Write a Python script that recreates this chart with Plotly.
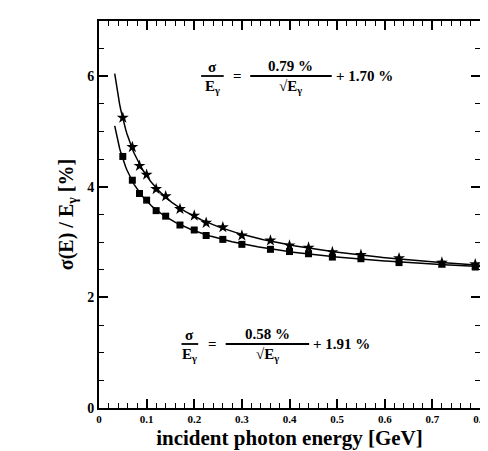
import numpy as np
import plotly.graph_objects as go

energy = [0.05, 0.07, 0.085, 0.10, 0.12, 0.14, 0.17, 0.20, 0.225, 0.26,
          0.30, 0.36, 0.40, 0.44, 0.49, 0.55, 0.63, 0.72, 0.79]
res_upper = [5.25, 4.72, 4.38, 4.22, 3.96, 3.83, 3.60, 3.48, 3.35, 3.27,
             3.12, 3.03, 2.94, 2.90, 2.82, 2.77, 2.71, 2.63, 2.60]
res_lower = [4.55, 4.12, 3.88, 3.76, 3.57, 3.47, 3.31, 3.22, 3.12, 3.05,
             2.96, 2.87, 2.83, 2.79, 2.73, 2.70, 2.63, 2.60, 2.55]

# Fit parameters shown in the labels (percent)
fit_upper = (0.79, 1.70)
fit_lower = (0.58, 1.91)
fit_range = (0.033, 0.80)
fit_labels_upper = ("0.79 %", "1.70 %")
fit_labels_lower = ("0.58 %", "1.91 %")

x_ticks = [0, 0.1, 0.2, 0.3, 0.4, 0.5, 0.6, 0.7, 0.8]
x_ticklabels = ["<b>0</b>", "<b>0.1</b>", "<b>0.2</b>", "<b>0.3</b>", "<b>0.4</b>",
                "<b>0.5</b>", "<b>0.6</b>", "<b>0.7</b>", "<b>0.8</b>"]
y_ticks = [0, 2, 4, 6]
y_ticklabels = ["<b>0</b>", "<b>2</b>", "<b>4</b>", "<b>6</b>"]

X0, X1 = 0.0, 0.8
Y0, Y1 = 0.0, 7.0
L, R, T, B = 91, 9, 13, 51
W, H = 488, 451

def px_x(px):
    return X0 + (px - L) / (W - L - R) * (X1 - X0)

def px_y(py):
    return Y0 + (H - B - py) / (H - T - B) * (Y1 - Y0)

ef = np.linspace(fit_range[0], fit_range[1], 300)

fig = go.Figure()
for (a, b) in (fit_upper, fit_lower):
    fig.add_trace(go.Scatter(x=ef, y=a / np.sqrt(ef) + b, mode="lines",
                             line=dict(color="black", width=1.5),
                             showlegend=False, hoverinfo="skip"))

fig.add_trace(go.Scatter(x=energy, y=res_upper, mode="markers",
                         marker=dict(symbol="star", size=9, color="black"),
                         showlegend=False))
fig.add_trace(go.Scatter(x=energy, y=res_lower, mode="markers",
                         marker=dict(symbol="square", size=7, color="black"),
                         showlegend=False))

font_serif = "Liberation Serif"
ff = dict(family=font_serif, size=15, color="black")


def formula(fx0, fx1, eqx, bx0, bx1, y_bar, labels):
    """Stacked-fraction formula; arguments are pixel positions."""
    num, const = labels
    fig.add_shape(type="line", x0=px_x(fx0), x1=px_x(fx1), y0=px_y(y_bar), y1=px_y(y_bar),
                  line=dict(color="black", width=1.8))
    fig.add_annotation(x=px_x((fx0 + fx1) / 2), y=px_y(y_bar), yshift=9, text="<b>σ</b>",
                       showarrow=False, font=ff)
    fig.add_annotation(x=px_x((fx0 + fx1) / 2), y=px_y(y_bar), yshift=-11,
                       text="<b>E<sub>γ</sub></b>", showarrow=False, font=ff)
    fig.add_annotation(x=px_x(eqx), y=px_y(y_bar), text="<b>=</b>",
                       showarrow=False, font=ff)
    fig.add_shape(type="line", x0=px_x(bx0), x1=px_x(bx1), y0=px_y(y_bar), y1=px_y(y_bar),
                  line=dict(color="black", width=1.8))
    fig.add_annotation(x=px_x((bx0 + bx1) / 2), y=px_y(y_bar), yshift=10,
                       text="<b>" + num + "</b>", showarrow=False, font=ff)
    fig.add_annotation(x=px_x((bx0 + bx1) / 2), y=px_y(y_bar), yshift=-11,
                       text="<b>√E<sub>γ</sub></b>", showarrow=False, font=ff)
    fig.add_annotation(x=px_x(bx1 + 2), y=px_y(y_bar), xanchor="left",
                       text="<b>+ " + const + "</b>", showarrow=False, font=ff)


formula(195, 218, 232, 245, 328, 68, fit_labels_upper)
formula(175, 192, 207, 220, 305, 336, fit_labels_lower)

axis_common = dict(showline=True, linecolor="black", linewidth=2, mirror="ticks",
                   ticks="inside", tickcolor="black", tickwidth=1.5, ticklen=9,
                   showgrid=False, zeroline=False)

fig.update_xaxes(range=[X0, X1], tickvals=x_ticks, ticktext=x_ticklabels,
                 tickfont=dict(family=font_serif, size=11, color="black"),
                 minor=dict(dtick=0.02, ticks="inside", ticklen=5, tickcolor="black", tickwidth=1),
                 title=dict(text="<b>incident photon energy [GeV]</b>",
                            font=dict(family=font_serif, size=21, color="black"), standoff=6),
                 **axis_common)
fig.update_yaxes(range=[Y0, Y1], tickvals=y_ticks, ticktext=y_ticklabels,
                 tickfont=dict(family=font_serif, size=14, color="black"),
                 minor=dict(dtick=0.5, ticks="inside", ticklen=5, tickcolor="black", tickwidth=1),
                 title=dict(text="<b>σ(E) / E<sub>γ</sub> [%]</b>",
                            font=dict(family=font_serif, size=20, color="black"), standoff=8),
                 **axis_common)

fig.update_layout(width=W, height=H, paper_bgcolor="white", plot_bgcolor="white",
                  margin=dict(l=L, r=R, t=T, b=B))

fig.write_html("out.html")
